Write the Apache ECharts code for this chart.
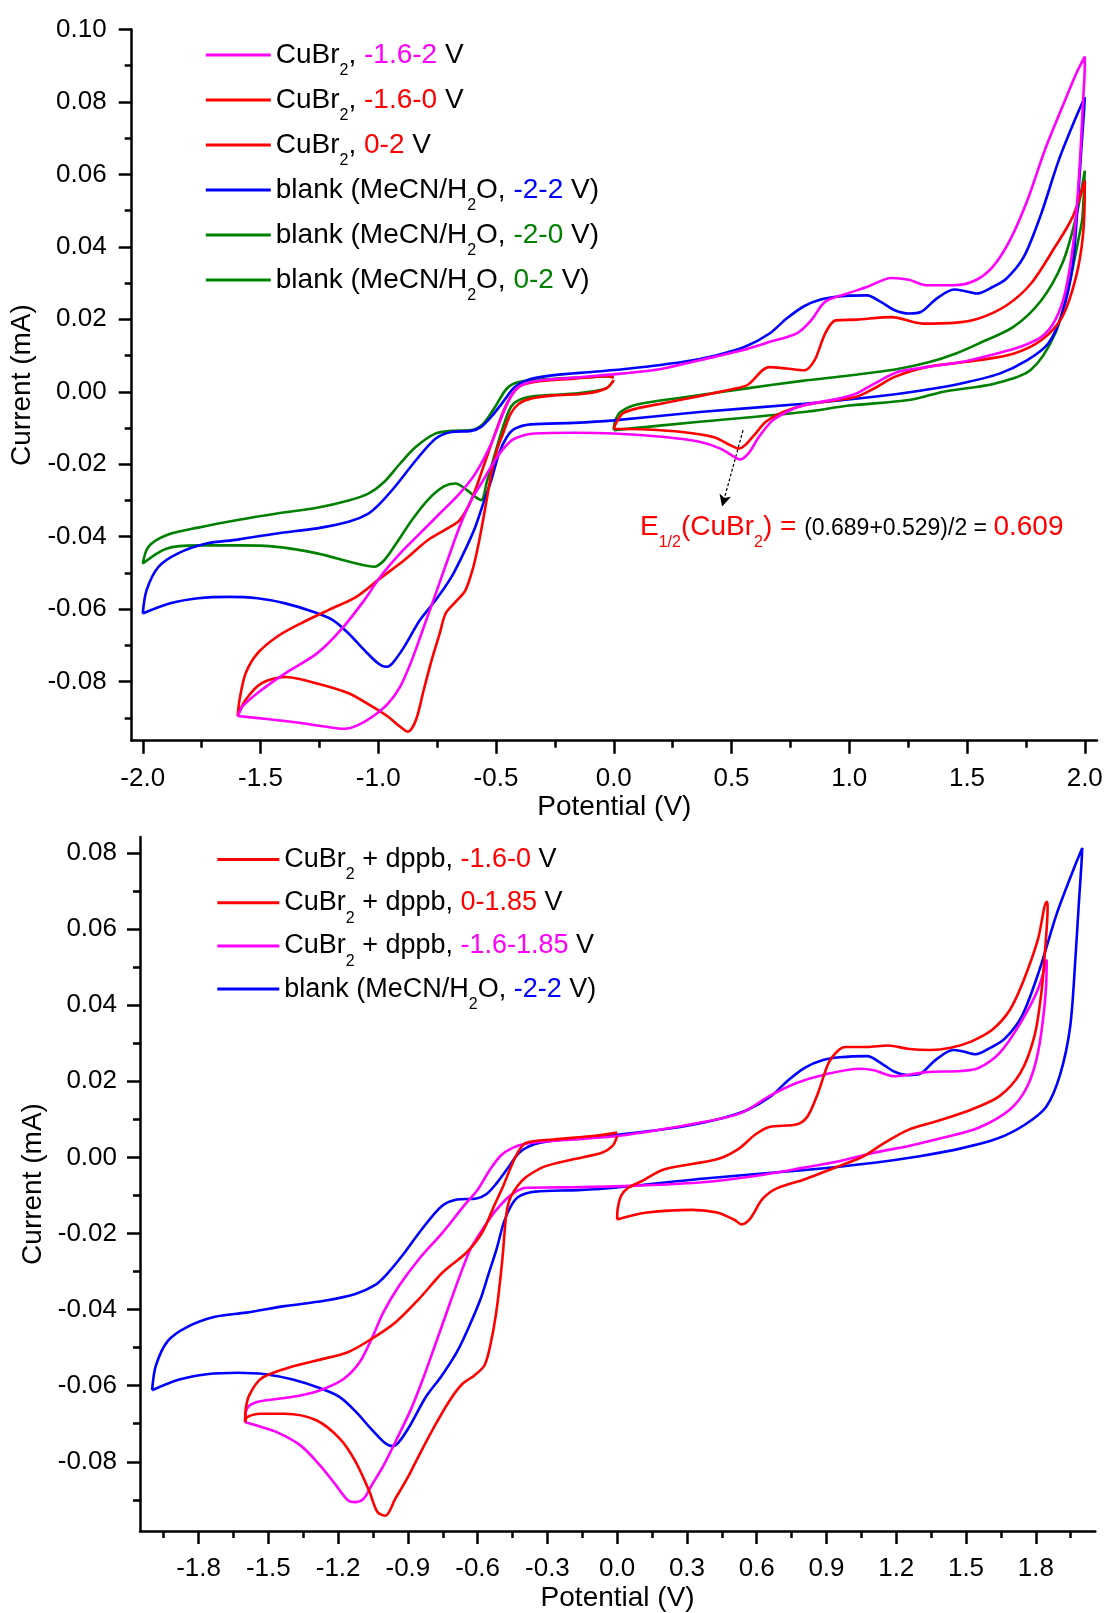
<!DOCTYPE html>
<html><head><meta charset="utf-8">
<script src="https://cdn.jsdelivr.net/npm/echarts@6/dist/echarts.min.js"></script>
<style>html,body{margin:0;padding:0;background:#fff}#c{width:1107px;height:1613px}</style>
</head><body><div id="c"></div>
<script>
// ---------- tick values ----------
const topXTicks = [-2.0,-1.5,-1.0,-0.5,0.0,0.5,1.0,1.5,2.0];
const topXMinor = [-1.75,-1.25,-0.75,-0.25,0.25,0.75,1.25,1.75];
const topYTicks = [-0.08,-0.06,-0.04,-0.02,0.00,0.02,0.04,0.06,0.08,0.10];
const topYMinor = [-0.09,-0.07,-0.05,-0.03,-0.01,0.01,0.03,0.05,0.07,0.09];
const botXTicks = [-1.8,-1.5,-1.2,-0.9,-0.6,-0.3,0.0,0.3,0.6,0.9,1.2,1.5,1.8];
const botXMinor = [-1.95,-1.65,-1.35,-1.05,-0.75,-0.45,-0.15,0.15,0.45,0.75,1.05,1.35,1.65,1.95];
const botYTicks = [-0.08,-0.06,-0.04,-0.02,0.00,0.02,0.04,0.06,0.08];
const botYMinor = [-0.09,-0.07,-0.05,-0.03,-0.01,0.01,0.03,0.05,0.07];

// ---------- curves [potential V, current mA] ----------
// blank (MeCN/H2O, -2-2 V) - used in both panels
const blank_m2_2 = [[-2.0,-0.0612],[-1.984,-0.0548],[-1.933,-0.0483],[-1.85,-0.0446],[-1.73,-0.0419],[-1.597,-0.0408],[-1.43,-0.0391],[-1.26,-0.0377],[-1.126,-0.0359],[-1.042,-0.0336],[-0.992,-0.0308],[-0.924,-0.0258],[-0.84,-0.0189],[-0.756,-0.0129],[-0.689,-0.0111],[-0.605,-0.0108],[-0.563,-0.0097],[-0.52,-0.0069],[-0.47,-0.0028],[-0.42,0.0013],[-0.353,0.0035],[-0.252,0.0046],[-0.084,0.0055],[0.068,0.0064],[0.29,0.0082],[0.438,0.0101],[0.557,0.0124],[0.66,0.016],[0.734,0.0202],[0.808,0.0236],[0.882,0.0255],[0.956,0.0263],[1.075,0.0266],[1.134,0.0248],[1.193,0.0225],[1.253,0.0216],[1.304,0.022],[1.371,0.0257],[1.445,0.0282],[1.49,0.0278],[1.541,0.0271],[1.608,0.0289],[1.667,0.0312],[1.741,0.0372],[1.815,0.0491],[1.889,0.0638],[1.963,0.0758],[2.0,0.0813],
  [1.997,0.0776],[1.985,0.0666],[1.971,0.0528],[1.948,0.0344],[1.904,0.0216],[1.845,0.0133],[1.756,0.0087],[1.638,0.005],[1.475,0.0023],[1.3,0.0003],[1.105,-0.0014],[0.808,-0.0033],[0.364,-0.0056],[0.0,-0.0079],[-0.168,-0.0086],[-0.353,-0.009],[-0.42,-0.0102],[-0.454,-0.0125],[-0.487,-0.017],[-0.52,-0.0244],[-0.554,-0.0308],[-0.588,-0.0373],[-0.638,-0.0446],[-0.689,-0.0511],[-0.756,-0.0575],[-0.823,-0.063],[-0.89,-0.0704],[-0.941,-0.075],[-0.966,-0.0759],[-1.0,-0.075],[-1.059,-0.0713],[-1.126,-0.0667],[-1.193,-0.063],[-1.277,-0.0607],[-1.395,-0.0584],[-1.513,-0.057],[-1.631,-0.0566],[-1.765,-0.057],[-1.883,-0.0584],[-2.0,-0.0612]];

// CuBr2, -1.6-2 V
const cubr2_m16_2 = [[-1.597,-0.0895],[-1.572,-0.0865],[-1.496,-0.0823],[-1.395,-0.0777],[-1.26,-0.0722],[-1.16,-0.0658],[-1.059,-0.0575],[-0.992,-0.0511],[-0.907,-0.0446],[-0.823,-0.0391],[-0.739,-0.0336],[-0.655,-0.0281],[-0.588,-0.0226],[-0.52,-0.0143],[-0.47,-0.006],[-0.42,0.0004],[-0.353,0.0027],[-0.168,0.0039],[0.03,0.005],[0.2,0.0063],[0.364,0.0087],[0.542,0.0114],[0.66,0.0137],[0.779,0.0162],[0.838,0.0197],[0.897,0.0248],[0.986,0.027],[1.075,0.0289],[1.179,0.0314],[1.253,0.0309],[1.327,0.0294],[1.445,0.0294],[1.534,0.0307],[1.608,0.0344],[1.682,0.0418],[1.756,0.0528],[1.83,0.0666],[1.904,0.0785],[1.963,0.0877],[2.0,0.0925],
  [2.0,0.0896],[1.993,0.0804],[1.978,0.062],[1.956,0.0436],[1.919,0.028],[1.874,0.0197],[1.815,0.0151],[1.726,0.0124],[1.623,0.0105],[1.475,0.0082],[1.327,0.0068],[1.208,0.0055],[1.105,0.0022],[1.03,-0.0005],[0.956,-0.0019],[0.808,-0.0037],[0.749,-0.0051],[0.675,-0.0079],[0.616,-0.0125],[0.572,-0.017],[0.535,-0.0187],[0.512,-0.018],[0.453,-0.0157],[0.364,-0.0138],[0.216,-0.0125],[0.0,-0.0115],[-0.168,-0.0113],[-0.336,-0.0115],[-0.42,-0.0129],[-0.462,-0.0152],[-0.504,-0.0189],[-0.554,-0.0244],[-0.605,-0.0299],[-0.655,-0.0373],[-0.706,-0.0465],[-0.756,-0.0557],[-0.806,-0.0648],[-0.857,-0.074],[-0.907,-0.0814],[-0.958,-0.086],[-1.025,-0.0897],[-1.093,-0.0922],[-1.143,-0.093],[-1.227,-0.0924],[-1.345,-0.0913],[-1.462,-0.0904],[-1.597,-0.0895]];

// CuBr2, -1.6-0 V
const cubr2_m16_0 = [[0.0,0.0032],[-0.033,0.0009],[-0.117,-0.0005],[-0.252,-0.001],[-0.353,-0.0019],[-0.403,-0.0033],[-0.437,-0.006],[-0.47,-0.0115],[-0.496,-0.0161],[-0.52,-0.0226],[-0.545,-0.0318],[-0.571,-0.041],[-0.596,-0.0483],[-0.63,-0.0548],[-0.672,-0.058],[-0.714,-0.0612],[-0.739,-0.0667],[-0.773,-0.074],[-0.807,-0.0823],[-0.84,-0.0906],[-0.874,-0.0938],[-0.908,-0.0924],[-0.958,-0.0897],[-1.025,-0.0869],[-1.126,-0.0832],[-1.26,-0.0805],[-1.395,-0.0787],[-1.496,-0.0805],[-1.563,-0.085],[-1.597,-0.0895],
  [-1.589,-0.085],[-1.563,-0.0777],[-1.513,-0.0722],[-1.43,-0.0676],[-1.328,-0.0639],[-1.21,-0.0602],[-1.093,-0.0566],[-0.992,-0.0515],[-0.89,-0.0465],[-0.79,-0.041],[-0.706,-0.0377],[-0.655,-0.0355],[-0.605,-0.0299],[-0.554,-0.0208],[-0.504,-0.0115],[-0.454,-0.0033],[-0.403,0.0013],[-0.336,0.0027],[-0.168,0.0036],[-0.033,0.0043],[0.0,0.0039]];

// CuBr2, 0-2 V
const cubr2_0_2 = [[0.0,-0.0102],[0.009,-0.0088],[0.038,-0.006],[0.098,-0.0046],[0.216,-0.0031],[0.364,-0.0012],[0.512,0.0008],[0.571,0.002],[0.631,0.0059],[0.66,0.0068],[0.734,0.0064],[0.808,0.0059],[0.853,0.0087],[0.897,0.016],[0.942,0.0197],[1.03,0.0199],[1.179,0.0206],[1.312,0.0188],[1.445,0.019],[1.549,0.0202],[1.667,0.0238],[1.771,0.0298],[1.874,0.04],[1.948,0.0482],[2.0,0.0583],
  [2.0,0.0565],[1.993,0.0436],[1.963,0.0317],[1.904,0.0206],[1.815,0.0142],[1.697,0.0105],[1.549,0.0087],[1.327,0.0068],[1.193,0.0041],[1.105,0.0009],[1.03,-0.0014],[0.956,-0.0022],[0.808,-0.0037],[0.72,-0.0056],[0.646,-0.0083],[0.601,-0.0116],[0.557,-0.0148],[0.53,-0.0157],[0.497,-0.0148],[0.423,-0.0125],[0.29,-0.0111],[0.142,-0.0104],[0.0,-0.0102]];

// blank (MeCN/H2O, -2-0 V)
const blank_m2_0 = [[0.0,0.0032],[-0.033,0.0009],[-0.168,-0.0005],[-0.336,-0.0012],[-0.403,-0.0023],[-0.437,-0.0042],[-0.47,-0.0097],[-0.504,-0.017],[-0.537,-0.0244],[-0.563,-0.0299],[-0.588,-0.029],[-0.622,-0.0272],[-0.672,-0.0253],[-0.723,-0.0262],[-0.79,-0.0299],[-0.857,-0.0354],[-0.924,-0.0419],[-0.975,-0.0465],[-1.017,-0.0483],[-1.093,-0.0474],[-1.26,-0.0446],[-1.43,-0.0428],[-1.597,-0.0424],[-1.765,-0.0424],[-1.9,-0.0433],[-2.0,-0.0474],
  [-1.976,-0.0428],[-1.9,-0.0396],[-1.765,-0.0375],[-1.597,-0.0354],[-1.43,-0.0336],[-1.26,-0.032],[-1.126,-0.03],[-1.042,-0.0281],[-0.975,-0.0249],[-0.907,-0.0198],[-0.84,-0.0152],[-0.756,-0.0115],[-0.689,-0.0108],[-0.605,-0.0106],[-0.554,-0.0088],[-0.504,-0.0042],[-0.454,0.0009],[-0.403,0.0027],[-0.252,0.0036],[-0.084,0.0041],[0.0,0.0043]];

// blank (MeCN/H2O, 0-2 V)
const blank_0_2 = [[0.0,-0.0106],[0.006,-0.008],[0.03,-0.0055],[0.1,-0.0035],[0.3,-0.0015],[0.55,0.0008],[0.8,0.003],[1.0,0.0045],[1.2,0.0062],[1.341,0.0082],[1.45,0.0105],[1.549,0.0133],[1.697,0.0179],[1.815,0.0252],[1.904,0.0353],[1.963,0.0482],[2.0,0.061],
  [1.99,0.048],[1.978,0.0436],[1.934,0.0298],[1.874,0.016],[1.77,0.006],[1.62,0.0023],[1.4,0.0],[1.253,-0.0023],[1.0,-0.0038],[0.808,-0.0056],[0.364,-0.0083],[0.0,-0.0106]];

// CuBr2 + dppb, -1.6-0 V
const dppb_m16_0 = [[0.0,0.0056],[-0.02,0.003],[-0.066,0.0012],[-0.189,-0.0005],[-0.308,-0.0023],[-0.376,-0.0045],[-0.41,-0.0062],[-0.445,-0.009],[-0.465,-0.0115],[-0.478,-0.0155],[-0.495,-0.0276],[-0.52,-0.0407],[-0.546,-0.0495],[-0.571,-0.0547],[-0.614,-0.0573],[-0.665,-0.0595],[-0.716,-0.0635],[-0.784,-0.0705],[-0.852,-0.0783],[-0.903,-0.0844],[-0.954,-0.0897],[-0.997,-0.0942],[-1.031,-0.0932],[-1.065,-0.0879],[-1.124,-0.0801],[-1.192,-0.074],[-1.294,-0.0691],[-1.43,-0.0674],[-1.532,-0.0674],[-1.592,-0.0683],[-1.6,-0.0696],
  [-1.597,-0.066],[-1.583,-0.0626],[-1.532,-0.0582],[-1.43,-0.0556],[-1.294,-0.0534],[-1.158,-0.0512],[-1.056,-0.0477],[-0.954,-0.0434],[-0.852,-0.0372],[-0.75,-0.0302],[-0.648,-0.025],[-0.58,-0.0197],[-0.529,-0.0127],[-0.49,-0.0075],[-0.46,-0.003],[-0.43,0.001],[-0.393,0.0038],[-0.274,0.0047],[-0.104,0.0056],[0.0,0.0065]];

// CuBr2 + dppb, 0-1.85 V
const dppb_0_185 = [[0.0,-0.0163],[0.002,-0.0136],[0.017,-0.0101],[0.047,-0.008],[0.1,-0.0064],[0.204,-0.0031],[0.429,-0.0005],[0.519,0.0021],[0.594,0.006],[0.654,0.008],[0.774,0.0087],[0.819,0.0108],[0.864,0.017],[0.909,0.0248],[0.954,0.0283],[0.984,0.029],[1.074,0.029],[1.164,0.0294],[1.254,0.0285],[1.344,0.0282],[1.434,0.0288],[1.524,0.0305],[1.614,0.0336],[1.689,0.0388],[1.749,0.0467],[1.809,0.0572],[1.847,0.0672],
  [1.851,0.0659],[1.839,0.0537],[1.824,0.0432],[1.794,0.0318],[1.734,0.0222],[1.644,0.0161],[1.524,0.0126],[1.374,0.0095],[1.254,0.0073],[1.149,0.0038],[1.059,0.0003],[0.954,-0.0023],[0.804,-0.0058],[0.684,-0.0082],[0.624,-0.011],[0.572,-0.0161],[0.534,-0.0176],[0.504,-0.0164],[0.429,-0.0145],[0.324,-0.0138],[0.129,-0.0145],[0.0,-0.0163]];

// CuBr2 + dppb, -1.6-1.85 V
const dppb_m16_185 = [[-1.6,-0.0696],[-1.592,-0.066],[-1.549,-0.0643],[-1.464,-0.0635],[-1.362,-0.0626],[-1.26,-0.0608],[-1.175,-0.0582],[-1.107,-0.0538],[-1.056,-0.0477],[-1.005,-0.0407],[-0.937,-0.0337],[-0.852,-0.0267],[-0.75,-0.0197],[-0.66,-0.0128],[-0.6,-0.0085],[-0.55,-0.0035],[-0.5,0.0005],[-0.45,0.0025],[-0.393,0.0036],[-0.24,0.0045],[0.0,0.0056],[0.354,0.0091],[0.534,0.0117],[0.654,0.0161],[0.774,0.0196],[0.894,0.0218],[1.044,0.0233],[1.104,0.0229],[1.194,0.0213],[1.329,0.0224],[1.479,0.0227],[1.554,0.0235],[1.644,0.0274],[1.734,0.0353],[1.809,0.0441],[1.847,0.052],
  [1.847,0.0502],[1.839,0.0406],[1.809,0.0274],[1.764,0.0187],[1.689,0.0126],[1.554,0.0078],[1.404,0.0052],[1.254,0.003],[1.104,0.0012],[0.954,-0.001],[0.804,-0.0027],[0.594,-0.0049],[0.354,-0.0066],[0.054,-0.0075],[-0.246,-0.0079],[-0.393,-0.008],[-0.444,-0.0093],[-0.478,-0.011],[-0.529,-0.0145],[-0.597,-0.0206],[-0.631,-0.0241],[-0.682,-0.032],[-0.733,-0.0407],[-0.784,-0.0495],[-0.835,-0.0582],[-0.886,-0.0661],[-0.954,-0.0748],[-1.005,-0.081],[-1.056,-0.0862],[-1.09,-0.0897],[-1.124,-0.0906],[-1.158,-0.0901],[-1.209,-0.0862],[-1.277,-0.081],[-1.362,-0.0757],[-1.464,-0.0722],[-1.549,-0.0705],[-1.6,-0.0696]];

// E1/2 arrow (start, end) in data coords
const arrowPts = [[0.549,-0.0106],[0.46,-0.0317]];

// ---------- styling ----------
const FONT = "'Liberation Sans', Arial, sans-serif";
const C = {m:'#ff00ff', r:'#ff0000', b:'#0000ff', g:'#008000'};

const topSeries = [
  {name:'t1', data:cubr2_m16_2, color:C.m, label:'{t|CuBr}{s|2}{t|, }{m|-1.6-2}{t| V}'},
  {name:'t2', data:cubr2_m16_0, color:C.r, label:'{t|CuBr}{s|2}{t|, }{r|-1.6-0}{t| V}'},
  {name:'t3', data:cubr2_0_2, color:C.r, label:'{t|CuBr}{s|2}{t|, }{r|0-2}{t| V}'},
  {name:'t4', data:blank_m2_2, color:C.b, label:'{t|blank (MeCN/H}{s|2}{t|O, }{b|-2-2}{t| V)}'},
  {name:'t5', data:blank_m2_0, color:C.g, label:'{t|blank (MeCN/H}{s|2}{t|O, }{g|-2-0}{t| V)}'},
  {name:'t6', data:blank_0_2, color:C.g, label:'{t|blank (MeCN/H}{s|2}{t|O, }{g|0-2}{t| V)}'}
];
const botSeries = [
  {name:'b1', data:dppb_m16_0, color:C.r, label:'{t|CuBr}{s|2}{t| + dppb, }{r|-1.6-0}{t| V}'},
  {name:'b2', data:dppb_0_185, color:C.r, label:'{t|CuBr}{s|2}{t| + dppb, }{r|0-1.85}{t| V}'},
  {name:'b3', data:dppb_m16_185, color:C.m, label:'{t|CuBr}{s|2}{t| + dppb, }{m|-1.6-1.85}{t| V}'},
  {name:'b4', data:blank_m2_2, color:C.b, label:'{t|blank (MeCN/H}{s|2}{t|O, }{b|-2-2}{t| V)}'}
];
const labelMap = {};
topSeries.concat(botSeries).forEach(s => labelMap[s.name] = s.label);

function richSet(fs, subFs, pad) {
  const base = {fontSize:fs, lineHeight:30, fontFamily:FONT};
  return {
    t: Object.assign({color:'#000', padding:[0,0,0,0]}, base),
    m: Object.assign({color:C.m}, base),
    r: Object.assign({color:C.r}, base),
    b: Object.assign({color:C.b}, base),
    g: Object.assign({color:C.g}, base),
    s: {fontSize:subFs, lineHeight:30, padding:[pad,0,0,0], color:'#000', fontFamily:FONT}
  };
}

const series = [];
topSeries.forEach((s,i) => series.push({
  type:'line', name:s.name, xAxisIndex:0, yAxisIndex:0, data:s.data, showSymbol:false, symbol:'none',
  smooth:0.3, lineStyle:{width:2.6, color:s.color}, itemStyle:{color:s.color}, z:10-i, silent:true,
  markLine: s.name === 't3' ? {
    silent:true, symbol:['none','arrow'], symbolSize:[9,12], animation:false,
    lineStyle:{color:'#000', type:[3,2], width:1.2}, label:{show:false},
    data:[[{coord:arrowPts[0]},{coord:arrowPts[1]}]]
  } : undefined
}));
botSeries.forEach((s,i) => series.push({
  type:'line', name:s.name, xAxisIndex:2, yAxisIndex:2, data:s.data, showSymbol:false, symbol:'none',
  smooth:0.3, lineStyle:{width:2.6, color:s.color}, itemStyle:{color:s.color}, z:10-i, silent:true
}));

const axisLineStyle = {color:'#000', width:2.5};
function mainX(grid, min, max, ticks, gap) {
  return {type:'value', gridIndex:grid, min:min, max:max, position:'bottom',
    axisLine:{show:true, onZero:false, lineStyle:axisLineStyle},
    axisTick:{show:true, customValues:ticks, length:13, lineStyle:{color:'#000', width:2.5}},
    axisLabel:{show:true, customValues:ticks, formatter:v=>v.toFixed(1), fontSize:26, color:'#000', fontFamily:FONT, margin:25},
    splitLine:{show:false},
    name:'Potential (V)', nameLocation:'middle', nameGap:gap,
    nameTextStyle:{fontSize:28, color:'#000', fontFamily:FONT}};
}
function minorX(grid, min, max, ticks) {
  return {type:'value', gridIndex:grid, min:min, max:max, position:'bottom', offset:0,
    axisLine:{show:false, onZero:false}, axisTick:{show:true, customValues:ticks, length:7, lineStyle:{color:'#000', width:2.5}},
    axisLabel:{show:false}, splitLine:{show:false}};
}
function mainY(grid, min, max, ticks, margin, gap) {
  return {type:'value', gridIndex:grid, min:min, max:max, position:'left',
    axisLine:{show:true, onZero:false, lineStyle:axisLineStyle},
    axisTick:{show:true, customValues:ticks, length:13, lineStyle:{color:'#000', width:2.5}},
    axisLabel:{show:true, customValues:ticks, formatter:v=>v.toFixed(2), fontSize:26, color:'#000', fontFamily:FONT, margin:margin},
    splitLine:{show:false},
    name:'Current (mA)', nameLocation:'middle', nameGap:gap, nameRotate:90,
    nameTextStyle:{fontSize:28, color:'#000', fontFamily:FONT}};
}
function minorY(grid, min, max, ticks) {
  return {type:'value', gridIndex:grid, min:min, max:max, position:'left', offset:0,
    axisLine:{show:false, onZero:false}, axisTick:{show:true, customValues:ticks, length:7, lineStyle:{color:'#000', width:2.5}},
    axisLabel:{show:false}, splitLine:{show:false}};
}

const option = {
  animation:false,
  backgroundColor:'#fff',
  grid:[
    {left:131.7, top:29.4, width:965.3, height:711.3},
    {left:140, top:837, width:955.3, height:695.3}
  ],
  xAxis:[
    mainX(0, -2.047, 2.052, topXTicks, 53),
    minorX(0, -2.047, 2.052, topXMinor),
    mainX(1, -2.052, 2.056, botXTicks, 53),
    minorX(1, -2.052, 2.056, botXMinor)
  ],
  yAxis:[
    mainY(0, -0.0963, 0.10, topYTicks, 25, 92),
    minorY(0, -0.0963, 0.10, topYMinor),
    mainY(1, -0.0982, 0.0842, botYTicks, 23, 89),
    minorY(1, -0.0982, 0.0842, botYMinor)
  ],
  legend:[
    {data:topSeries.map(s=>s.name), orient:'vertical', left:200.8, top:26, icon:'rect', itemWidth:65, itemHeight:3, itemGap:-3,
     selectedMode:false, formatter:n=>labelMap[n], textStyle:{fontSize:28, fontFamily:FONT, color:'#000', rich:richSet(28,16,32)}},
    {data:botSeries.map(s=>s.name), orient:'vertical', left:212.3, top:831, icon:'rect', itemWidth:62, itemHeight:3, itemGap:-3.8,
     selectedMode:false, formatter:n=>labelMap[n], textStyle:{fontSize:27, fontFamily:FONT, color:'#000', rich:richSet(27,16,31)}}
  ],
  graphic:[{
    type:'text', left:640, top:503, z:100,
    style:{
      text:'{r|E}{s|1/2}{r|(CuBr}{s|2}{r|) = }{k|(0.689+0.529)/2 = }{r|0.609}',
      fill:'#ff0000',
      rich:{
        r:{fontSize:28, lineHeight:30, fill:'#ff0000', fontFamily:FONT},
        s:{fontSize:16, lineHeight:30, padding:[32,0,0,0], fill:'#ff0000', fontFamily:FONT},
        k:{fontSize:23, lineHeight:30, padding:[3,0,0,0], fill:'#000000', fontFamily:FONT}
      }
    }
  }],
  series:series
};
const chart = echarts.init(document.getElementById('c'), null, {renderer:'canvas'});
chart.setOption(option);
</script>
</body></html>
